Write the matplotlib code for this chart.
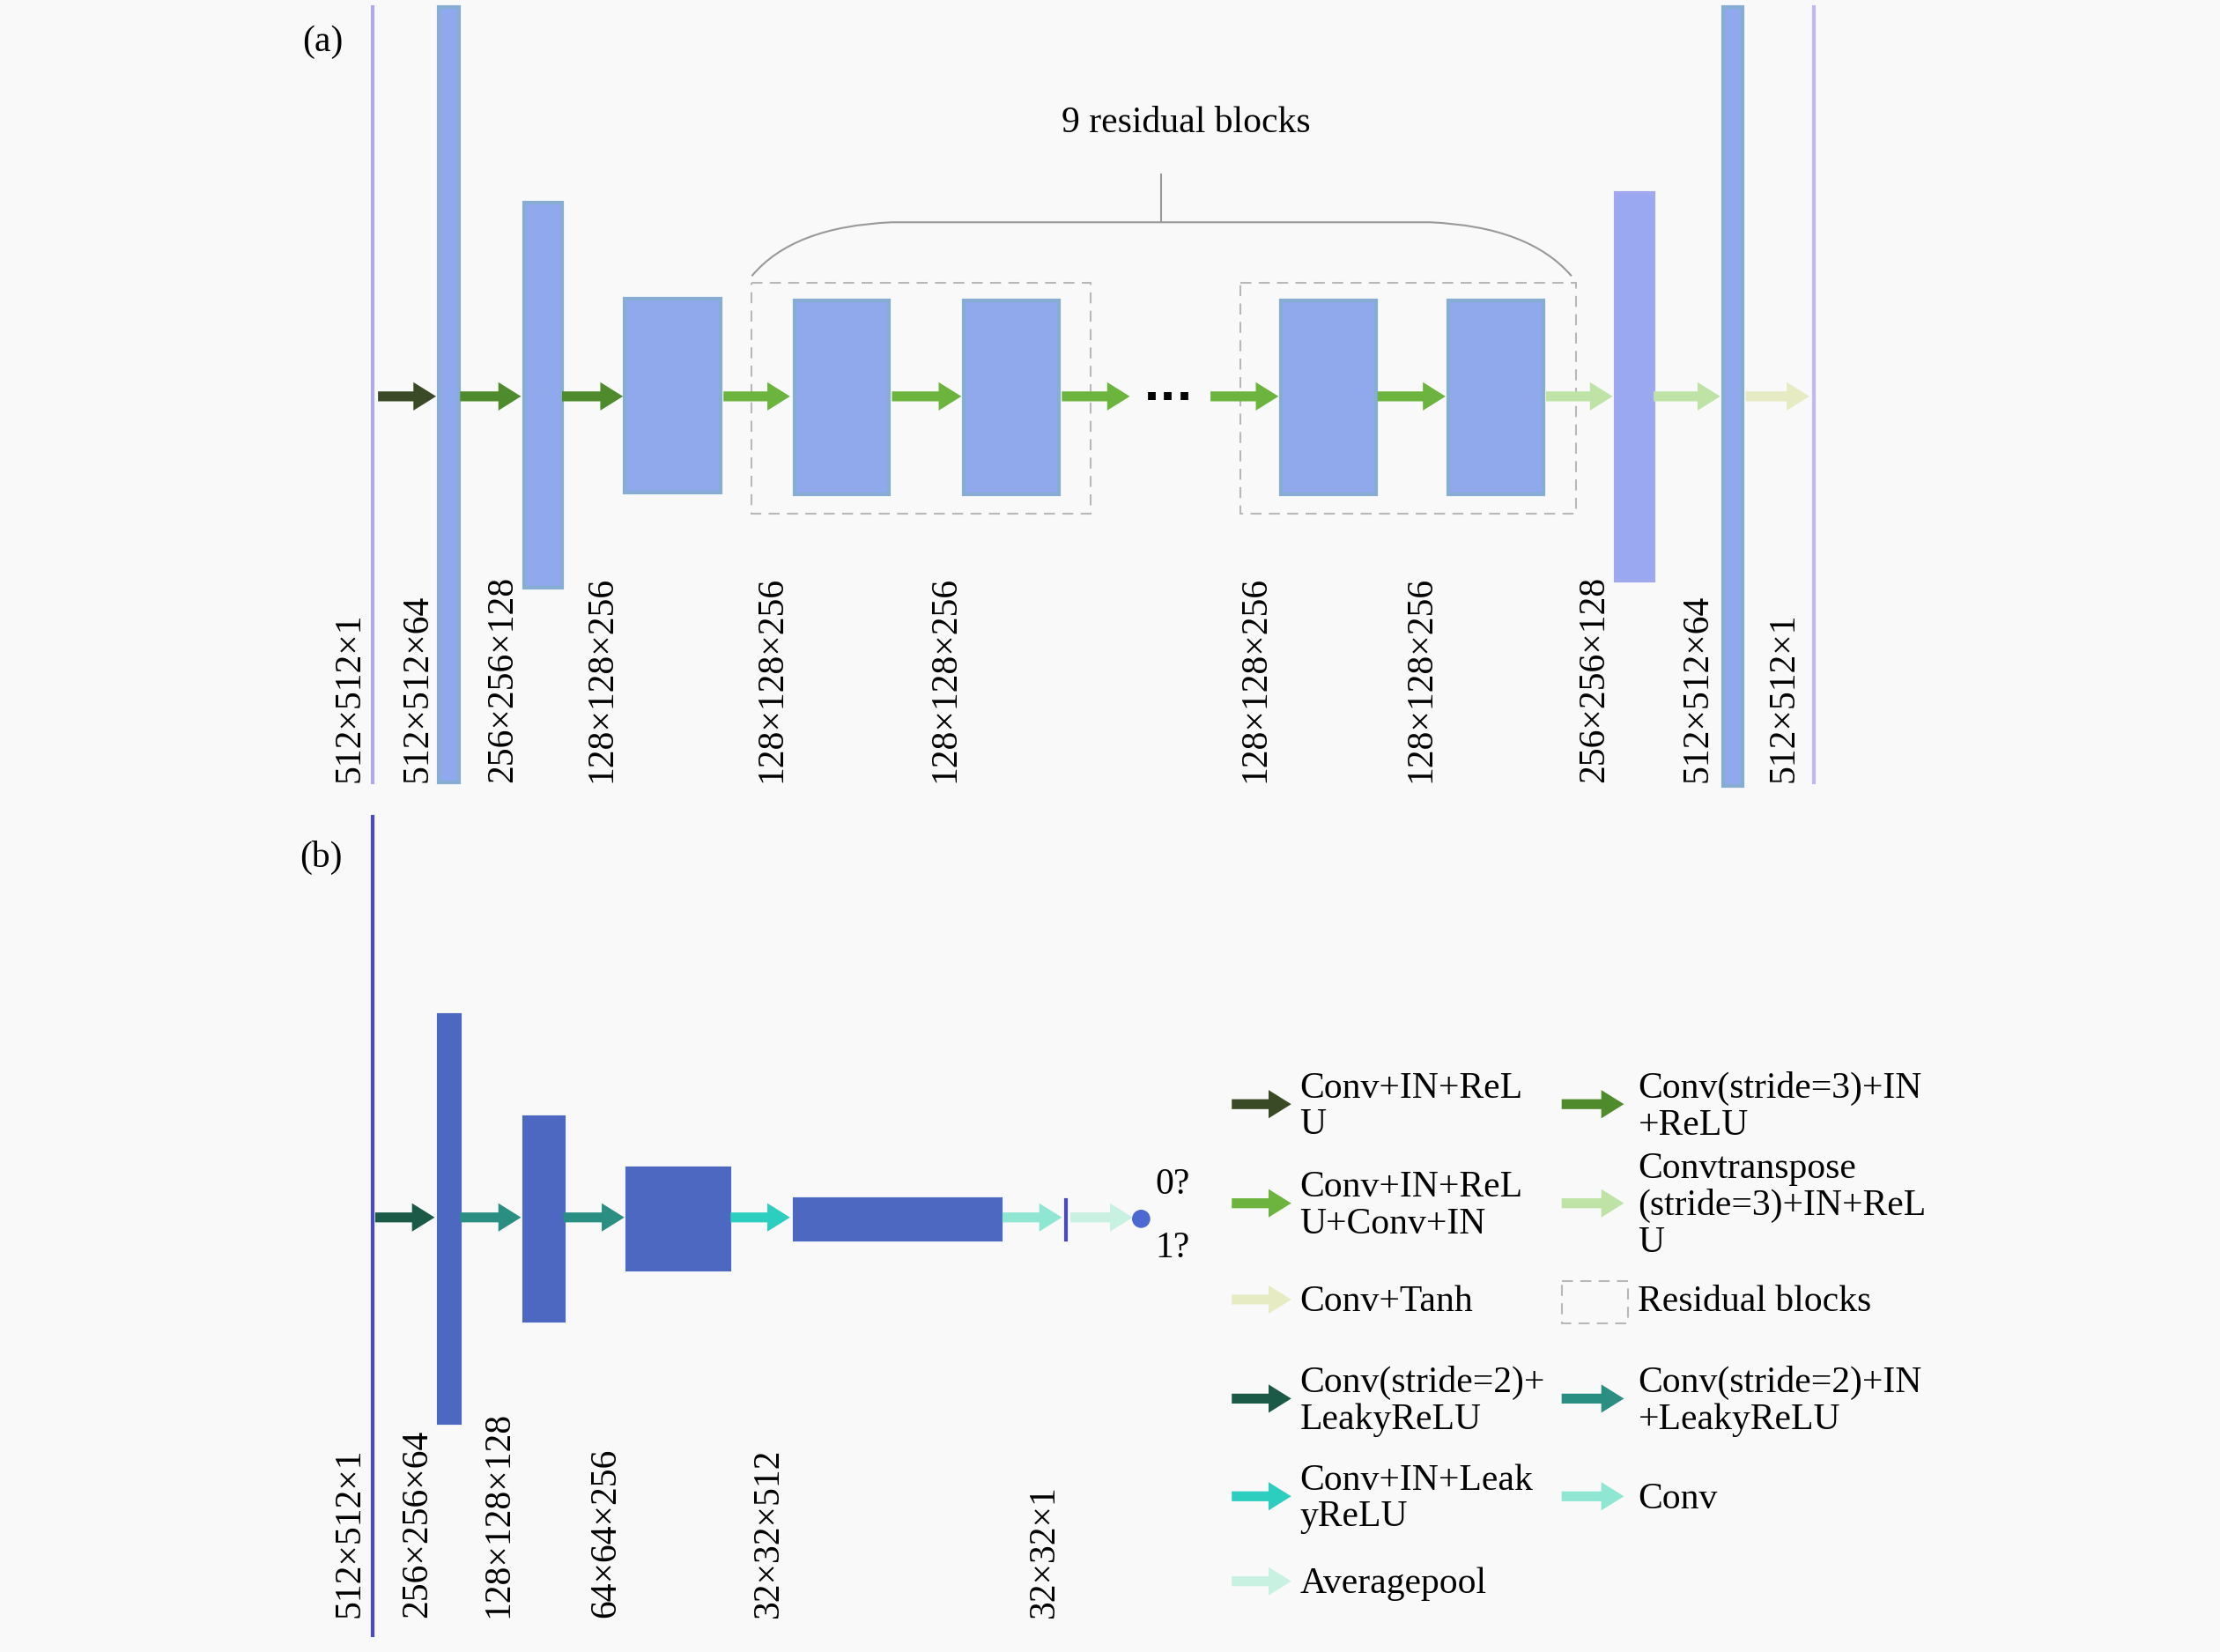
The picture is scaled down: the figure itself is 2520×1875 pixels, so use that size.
import matplotlib
matplotlib.use("Agg")
import matplotlib.pyplot as plt
from matplotlib.patches import Rectangle, FancyArrow, Circle
from matplotlib.path import Path
from matplotlib.patches import PathPatch

plt.rcParams['font.family'] = ['Liberation Serif', 'DejaVu Serif']

# ---- data ----
gen_labels = ["512×512×1", "512×512×64", "256×256×128", "128×128×256", "128×128×256",
              "128×128×256", "128×128×256", "128×128×256", "256×256×128", "512×512×64", "512×512×1"]
gen_label_x = [247, 295, 355, 425, 545, 668, 887, 1004, 1126, 1199, 1260]
disc_labels = ["512×512×1", "256×256×64", "128×128×128", "64×64×256", "32×32×512", "32×32×1"]
disc_label_x = [247, 295, 352, 428, 543, 738]
outputs = ["0?", "1?"]
legend_left = ["Conv+IN+ReL\nU", "Conv+IN+ReL\nU+Conv+IN", "Conv+Tanh",
               "Conv(stride=2)+\nLeakyReLU", "Conv+IN+Leak\nyReLU", "Averagepool"]
legend_right = ["Conv(stride=3)+IN\n+ReLU", "Convtranspose\n(stride=3)+IN+ReL\nU", "Residual blocks",
                "Conv(stride=2)+IN\n+LeakyReLU", "Conv", None]

C_DARK = "#3b4a26"; C_MID = "#4f8a2c"; C_GREEN = "#6cb43e"; C_LIGHT = "#bfe3a6"; C_PALE = "#e6ebc4"
D_DARK = "#1b5a46"; D_MID = "#2a8f82"; D_CYAN = "#2ccfbf"; D_CONV = "#8fe6d2"; D_POOL = "#c9f1e2"

fig = plt.figure(figsize=(25.2, 18.75), dpi=100)
fig.patch.set_facecolor("#f9f9f9")
ax = fig.add_axes([0, 0, 1, 1])
ax.set_xlim(0, 1568); ax.set_ylim(1167, 0); ax.axis("off")
FS = 30

def arrow(x0, x1, y, c):
    ax.add_patch(FancyArrow(x0, y, x1 - x0, 0, width=7, head_width=20, head_length=16,
                            length_includes_head=True, color=c, lw=0))

def rect(x0, x1, y0, y1, fc, ec):
    ax.add_patch(Rectangle((x0, y0), x1 - x0, y1 - y0, fc=fc, ec=ec, lw=3))

# ---- (a) generator ----
ax.text(228, 30, "(a)", fontsize=FS, ha="center", va="center")
ax.plot([263, 263], [5, 553], color="#b0a8f0", lw=3)
ax.plot([1281, 1281], [5, 553], color="#c0b8f0", lw=3)
A = "#8fa9ec"; AE = "#88add2"
rect(310, 324, 5, 553, A, AE)
rect(370, 397, 143, 415, A, AE)
rect(441, 509, 211, 348, A, AE)
for x0 in [561, 681, 905, 1023]:
    rect(x0, x0 + 67, 212, 349, A, AE)
rect(1141, 1168, 136, 410, "#9aa8f2", "#a0a8ee")
rect(1217, 1231, 5, 555, A, AE)
for x0, x1 in [(531, 770), (876, 1113)]:
    ax.add_patch(Rectangle((x0, 200), x1 - x0, 163, fc="none", ec="#b8b8b8", lw=1.5, ls=(0, (6, 4))))
ax.text(825, 282, "···", fontsize=FS + 6, ha="center", va="center", fontweight="bold", family="DejaVu Sans")
verts = [(531, 195), (560, 160), (630, 157), (820, 157), (1010, 157), (1080, 160), (1110, 195)]
ax.add_patch(PathPatch(Path(verts, [Path.MOVETO, Path.CURVE3, Path.CURVE3, Path.LINETO, Path.CURVE3, Path.CURVE3][:1] +
                            [Path.CURVE3, Path.CURVE3, Path.LINETO, Path.LINETO, Path.CURVE3, Path.CURVE3]),
                       fc="none", ec="#999999", lw=1.5))
ax.plot([820, 820], [123, 157], color="#999999", lw=1.5)
ax.text(838, 87, "9 residual blocks", fontsize=FS, ha="center", va="center")
for (x0, x1), c in zip([(267, 308), (325, 368), (397, 440), (511, 558), (630, 679), (750, 798),
                        (855, 903), (973, 1021), (1092, 1139), (1168, 1215), (1233, 1278)],
                       [C_DARK, C_MID, C_MID, C_GREEN, C_GREEN, C_GREEN, C_GREEN, C_GREEN, C_LIGHT, C_LIGHT, C_PALE]):
    arrow(x0, x1, 280, c)
for x, t in zip(gen_label_x, gen_labels):
    ax.text(x, 553, t, rotation=90, fontsize=FS, ha="center", va="bottom")

# ---- (b) discriminator ----
ax.text(227, 606, "(b)", fontsize=FS, ha="center", va="center")
ax.plot([263, 263], [577, 1155], color="#4a48d0", lw=3)
B = "#4d68c0"; BE = "#4d68c0"
rect(310, 325, 717, 1005, B, BE)
rect(370, 398, 789, 933, B, BE)
rect(443, 515, 825, 897, B, BE)
rect(561, 707, 847, 876, B, BE)
ax.plot([753, 753], [848, 876], color="#4a48c0", lw=3)
ax.add_patch(Circle((806, 861), 6, color="#4d68d0"))
ax.text(828, 837, outputs[0], fontsize=FS, ha="center", va="center")
ax.text(828, 882, outputs[1], fontsize=FS, ha="center", va="center")
for (x0, x1), c in zip([(265, 307), (325, 368), (398, 441), (516, 558), (708, 750), (756, 800)],
                       [D_DARK, D_MID, D_MID, D_CYAN, D_CONV, D_POOL]):
    arrow(x0, x1, 860, c)
for x, t in zip(disc_label_x, disc_labels):
    ax.text(x, 1143, t, rotation=90, fontsize=FS, ha="center", va="bottom")

# ---- legend ----
ly = [780, 850, 918, 988, 1057, 1117]
lc = [C_DARK, C_GREEN, C_PALE, D_DARK, D_CYAN, D_POOL]
rc = [C_MID, C_LIGHT, None, D_MID, D_CONV, None]
for y, t, c in zip(ly, legend_left, lc):
    arrow(870, 912, y, c)
    ax.text(918, y + 2, t, fontsize=FS, ha="left", va="center", linespacing=1.1)
for y, t, c in zip(ly, legend_right, rc):
    if t is None:
        continue
    if c is None:
        ax.add_patch(Rectangle((1103, 905), 47, 30, fc="none", ec="#b8b8b8", lw=1.5, ls=(0, (6, 4))))
    else:
        arrow(1103, 1147, y, c)
    ax.text(1157, y + 2, t, fontsize=FS, ha="left", va="center", linespacing=1.1)

fig.savefig("out.png", dpi=100, facecolor=fig.get_facecolor())
